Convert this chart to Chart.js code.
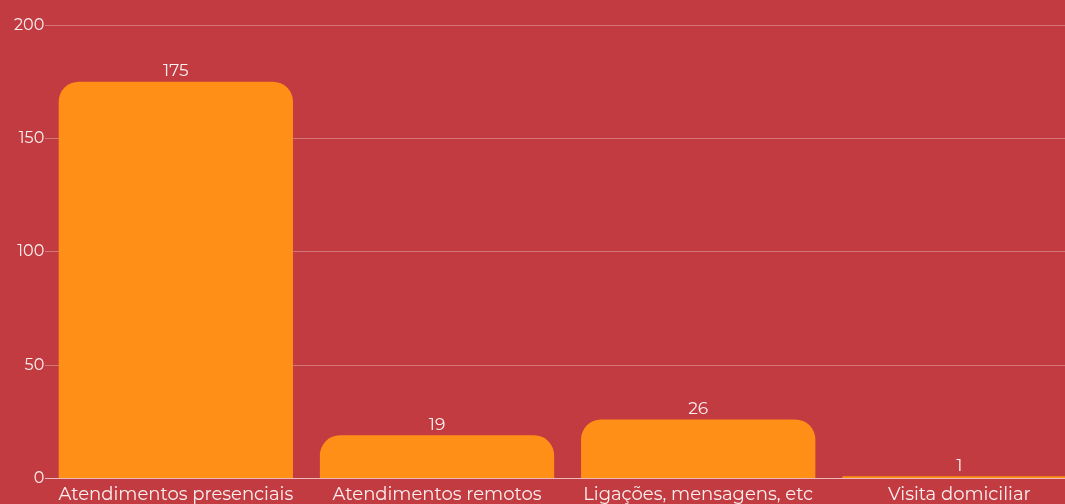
<!DOCTYPE html>
<html>
<head>
<meta charset="utf-8">
<script src="https://cdn.jsdelivr.net/npm/chart.js@4"></script>
<style>
  html, body { margin: 0; padding: 0; background: #c23b40; overflow: hidden; }
  #wrap { position: relative; width: 1090px; height: 512px; }
</style>
</head>
<body>
<div id="wrap"><canvas id="atendChart"></canvas></div>
<script>
const categories = ['Atendimentos presenciais', 'Atendimentos remotos', 'Ligações, mensagens, etc', 'Visita domiciliar'];
const counts = [175, 19, 26, 1];
const yTicks = [0, 50, 100, 150, 200];

const textColor = 'rgba(255,255,255,0.92)';
const fontFamily = "Montserrat, 'DejaVu Sans', sans-serif";

// value labels above each bar
const valueLabels = {
  id: 'valueLabels',
  afterDatasetsDraw(chart) {
    const { ctx } = chart;
    const meta = chart.getDatasetMeta(0);
    ctx.save();
    ctx.fillStyle = textColor;
    ctx.font = '17px ' + fontFamily;
    ctx.textAlign = 'center';
    ctx.textBaseline = 'bottom';
    meta.data.forEach((bar, i) => {
      ctx.fillText(counts[i], bar.x, bar.y - 2);
    });
    ctx.restore();
  }
};

const ctx = document.getElementById('atendChart').getContext('2d');
const atendChart = new Chart(ctx, {
  type: 'bar',
  data: {
    labels: categories,
    datasets: [{
      label: 'Atendimentos',
      data: counts,
      backgroundColor: '#ff8f17',
      borderRadius: 20,
      borderSkipped: 'bottom',
      barPercentage: 0.897,
      categoryPercentage: 1.0
    }]
  },
  options: {
    responsive: true,
    maintainAspectRatio: false,
    animation: false,
    layout: { padding: { top: 25, right: 0, bottom: 0, left: 13 } },
    plugins: {
      legend: { display: false },
      tooltip: { enabled: false }
    },
    scales: {
      x: {
        grid: { display: false, drawTicks: false },
        border: { color: 'rgba(255,255,255,0.5)' },
        ticks: {
          color: textColor,
          font: { family: fontFamily, size: 18 },
          padding: 6,
          maxRotation: 0,
          autoSkip: false
        }
      },
      y: {
        min: 0,
        max: 200,
        afterBuildTicks(scale) {
          scale.ticks = yTicks.map(v => ({ value: v }));
        },
        grid: { color: 'rgba(255,255,255,0.3)', drawTicks: false },
        border: { display: false },
        ticks: {
          color: textColor,
          font: { family: fontFamily, size: 16 },
          padding: 1
        }
      }
    }
  },
  plugins: [valueLabels]
});
</script>
</body>
</html>
